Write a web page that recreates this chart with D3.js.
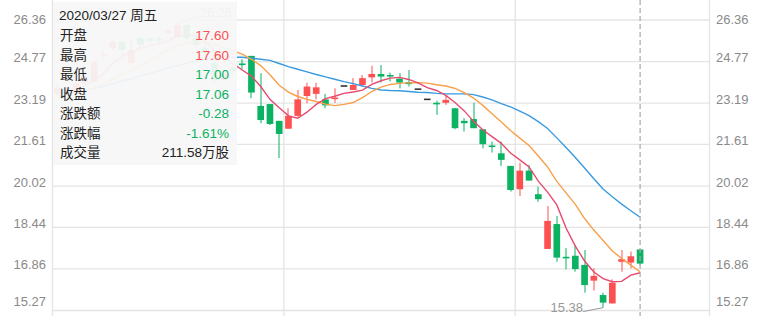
<!DOCTYPE html>
<html>
<head>
<meta charset="utf-8">
<script src="https://cdn.jsdelivr.net/npm/d3@7"></script>
<style>
    html, body { margin: 0; padding: 0; background: #fff; }
    svg { display: block; font-family: "Liberation Sans", Arial, "Noto Sans CJK SC", sans-serif; }
</style>
</head>
<body>
<svg id="chart" width="764" height="316"></svg>
<script>
// K 线数据
const opens = [
    23.57, 23.75, 23.55, 23.95, 24.00, 25.00, 25.29, 25.52, 24.72, 25.67,
    25.61, 25.62, 25.86, 25.71, 26.17, 25.70, 25.30, 24.71, 24.06, 24.55,
    24.68, 24.99, 23.08, 23.15, 22.51, 22.21, 22.70, 23.46, 23.54, 23.33,
    23.36, 23.84, 23.69, 23.88, 24.17, 24.30, 24.24, 24.12, 23.99, 23.72,
    23.33, 23.18, 23.20, 22.99, 22.51, 22.58, 22.19, 21.55, 21.27, 20.79,
    19.90, 20.61, 19.71, 17.62, 18.57, 17.30, 17.36, 17.01, 16.41, 15.86,
    15.54, 17.13, 17.10, 17.60
];
const highs = [
    23.90, 23.85, 24.05, 24.35, 24.85, 25.20, 25.65, 25.60, 25.62, 25.75,
    25.72, 25.75, 26.05, 26.25, 26.20, 25.85, 25.45, 25.20, 24.45, 24.70,
    24.87, 24.99, 24.33, 23.15, 22.51, 22.99, 23.69, 23.97, 23.96, 23.54,
    23.75, 23.84, 24.14, 24.26, 24.61, 24.64, 24.35, 24.33, 24.45, 23.72,
    23.33, 23.28, 23.46, 22.99, 22.61, 23.20, 22.19, 21.72, 21.72, 20.79,
    20.91, 20.83, 20.00, 19.26, 18.88, 17.65, 17.77, 17.58, 16.88, 15.95,
    16.46, 17.58, 17.52, 17.60
];
const lows = [
    23.45, 23.45, 23.50, 23.85, 23.95, 24.85, 25.20, 24.83, 24.65, 25.30,
    25.45, 25.40, 25.80, 25.65, 25.55, 25.30, 24.95, 23.95, 23.95, 24.30,
    24.49, 23.37, 22.42, 22.35, 21.09, 22.21, 22.65, 23.18, 23.33, 22.99,
    23.20, 23.84, 23.69, 23.84, 23.97, 23.97, 24.01, 23.75, 23.82, 23.72,
    23.33, 22.74, 23.12, 22.19, 22.10, 22.23, 21.46, 21.30, 20.79, 19.81,
    19.64, 20.23, 19.42, 17.62, 17.13, 16.84, 16.75, 15.95, 16.03, 15.38,
    15.54, 16.75, 16.88, 17.00
];
const closes = [
    23.77, 23.55, 23.95, 24.20, 24.75, 25.03, 25.52, 25.22, 25.22, 25.41,
    25.59, 25.58, 25.98, 26.17, 25.67, 25.40, 25.10, 24.06, 24.30, 24.40,
    24.66, 23.59, 22.54, 22.39, 22.01, 22.70, 23.33, 23.82, 23.79, 23.10,
    23.38, 23.84, 23.88, 24.14, 24.30, 24.20, 24.22, 23.97, 23.91, 23.72,
    23.33, 23.16, 23.31, 22.23, 22.42, 22.23, 21.62, 21.53, 21.02, 19.87,
    20.61, 20.23, 19.52, 18.69, 17.29, 17.28, 16.85, 16.24, 16.59, 15.57,
    16.33, 17.23, 17.34, 17.06
];

// 均线
const ma5 = [
    23.60, 23.65, 23.75, 23.85, 24.05, 24.30, 24.70, 24.95, 25.15, 25.28,
    25.39, 25.46, 25.56, 25.75, 25.80, 25.76, 25.55, 25.20, 24.95, 24.70,
    24.45, 24.22, 23.82, 23.33, 23.01, 22.70, 22.61, 22.84, 23.14, 23.36,
    23.45, 23.56, 23.61, 23.68, 23.90, 24.04, 24.14, 24.17, 24.09, 23.96,
    23.78, 23.67, 23.48, 23.21, 22.89, 22.49, 22.17, 21.91, 21.65, 21.28,
    21.02, 20.75, 20.21, 19.79, 19.30, 18.42, 17.73, 17.16, 16.74, 16.49,
    16.37, 16.38, 16.62, 16.71
];
const ma10 = [
    23.45, 23.48, 23.55, 23.65, 23.78, 23.92, 24.10, 24.28, 24.45, 24.62,
    24.82, 25.02, 25.22, 25.38, 25.48, 25.52, 25.50, 25.42, 25.30, 25.18,
    25.06, 24.86, 24.62, 24.27, 23.87, 23.61, 23.44, 23.33, 23.25, 23.15,
    23.09, 23.14, 23.21, 23.40, 23.63, 23.80, 23.90, 23.94, 23.96, 23.97,
    23.95, 23.89, 23.84, 23.75, 23.59, 23.38, 23.10, 22.78, 22.47, 22.14,
    21.85, 21.57, 21.17, 20.75, 20.20, 19.76, 19.32, 18.78, 18.34, 17.94,
    17.54, 17.26, 17.00, 16.75
];
const ma20 = [
    23.55, 23.58, 23.62, 23.68, 23.75, 23.83, 23.92, 24.02, 24.12, 24.22,
    24.32, 24.42, 24.52, 24.62, 24.71, 24.79, 24.85, 24.89, 24.92, 24.94,
    24.94, 24.90, 24.86, 24.82, 24.70, 24.58, 24.48, 24.38, 24.28, 24.19,
    24.10, 24.01, 23.93, 23.84, 23.75, 23.69, 23.67, 23.66, 23.63, 23.60,
    23.59, 23.56, 23.54, 23.54, 23.54, 23.51, 23.42, 23.31, 23.17, 23.04,
    22.88, 22.71, 22.48, 22.22, 21.86, 21.49, 21.11, 20.71, 20.30, 19.91,
    19.61, 19.33, 19.08, 18.83
];

const yTicks = [26.36, 24.77, 23.19, 21.61, 20.02, 18.44, 16.86, 15.27];
const slotCount = 71;
const xGridSlots = [0, 25, 50];

const tipDate = "2020/03/27 周五";
const tipLabels = ["开盘", "最高", "最低", "收盘", "涨跌额", "涨跌幅", "成交量"];
const tipValues = ["17.60", "17.60", "17.00", "17.06", "-0.28", "-1.61%", "211.58万股"];
const tipSigns = [1, 1, -1, -1, -1, -1, 0];

const RED = "#fd5050";
const GREEN = "#0bb262";
const FLAT = "#333";

const svg = d3.select("#chart");
const width = 764, height = 316;

const x = d3.scaleBand().domain(d3.range(slotCount)).range([52.5, 709.5]);
const y = d3.scaleLinear().domain([15.27, 26.36]).range([310.5, 20]);
const cx = i => x(i) + x.bandwidth() / 2;
const bodyW = x.bandwidth() * 0.72;

// 网格
const grid = svg.append("g").attr("stroke", "#e4e4e4").attr("stroke-width", 1.3);
grid.selectAll("line.h")
    .data(yTicks)
    .enter().append("line")
    .attr("x1", x.range()[0]).attr("x2", x.range()[1])
    .attr("y1", d => y(d)).attr("y2", d => y(d));
grid.selectAll("line.v")
    .data(xGridSlots.map(k => x(k)).concat([x.range()[1]]))
    .enter().append("line")
    .attr("x1", d => d).attr("x2", d => d)
    .attr("y1", 0).attr("y2", height);

// 坐标轴文字
function styleAxis(g) {
    g.select(".domain").remove();
    g.selectAll("line").remove();
    g.selectAll("text")
        .attr("fill", "#8a8a8a")
        .style("font-size", "13px")
        .attr("dy", (d, i) => i === 0 ? "0.25em" : (i === yTicks.length - 1 ? "-0.4em" : "0"));
}
svg.append("g").attr("transform", "translate(46,0)")
    .call(d3.axisLeft(y).tickValues(yTicks).tickFormat(d3.format(".2f")).tickSize(0).tickPadding(0))
    .call(styleAxis);
svg.append("g").attr("transform", "translate(716,0)")
    .call(d3.axisRight(y).tickValues(yTicks).tickFormat(d3.format(".2f")).tickSize(0).tickPadding(0))
    .call(styleAxis);

// K 线
const candles = opens.map((o, i) => ({ i, o, h: highs[i], l: lows[i], c: closes[i] }));
const colorOf = d => d.c > d.o ? RED : (d.c < d.o ? GREEN : FLAT);

const k = svg.append("g");
k.selectAll("line.wick")
    .data(candles.filter(d => d.h > d.l))
    .enter().append("line")
    .attr("x1", d => Math.round(cx(d.i))).attr("x2", d => Math.round(cx(d.i)))
    .attr("y1", d => y(d.h)).attr("y2", d => y(d.l))
    .attr("stroke", colorOf)
    .attr("stroke-width", 1);
k.selectAll("rect")
    .data(candles)
    .enter().append("rect")
    .attr("x", d => cx(d.i) - bodyW / 2)
    .attr("width", bodyW)
    .attr("y", d => {
        const top = y(Math.max(d.o, d.c)), bot = y(Math.min(d.o, d.c));
        return bot - top < 1.6 ? (top + bot) / 2 - 0.8 : top;
    })
    .attr("height", d => Math.max(1.6, y(Math.min(d.o, d.c)) - y(Math.max(d.o, d.c))))
    .attr("fill", colorOf);

// 均线
const line = d3.line().x((d, i) => cx(i)).y(d => y(d));
[[ma20, "#3a9ae0"], [ma10, "#f8a04a"], [ma5, "#e84a6e"]].forEach(([s, col]) => {
    svg.append("path")
        .datum(s)
        .attr("d", line)
        .attr("fill", "none")
        .attr("stroke", col)
        .attr("stroke-width", 1.4);
});

// 最高 / 最低 标注
const maxI = d3.maxIndex(highs), minI = d3.minIndex(lows);
const mid = (x.range()[0] + x.range()[1]) / 2;
function markExtreme(i, v, up) {
    const px = cx(i), py = y(v);
    const right = px < mid;
    const ty = up ? py - 10 : py;
    const tx = right ? px + 22 : px - 20;
    svg.append("line")
        .attr("x1", px).attr("y1", py)
        .attr("x2", tx).attr("y2", up ? ty + 3 : ty + 4)
        .attr("stroke", "#999").attr("stroke-width", 1);
    svg.append("text")
        .attr("x", tx).attr("y", ty)
        .attr("dy", "0.35em")
        .attr("text-anchor", right ? "start" : "end")
        .attr("fill", "#999")
        .style("font-size", "13px")
        .text(d3.format(".2f")(v));
}
markExtreme(maxI, highs[maxI], true);
markExtreme(minI, lows[minI], false);

// 十字线
const last = opens.length - 1;
svg.append("line")
    .attr("x1", cx(last)).attr("x2", cx(last))
    .attr("y1", 0).attr("y2", height)
    .attr("stroke", "#a8a8a8")
    .attr("stroke-width", 1.2)
    .attr("stroke-dasharray", "5,3");

// 提示框
const tip = svg.append("g");
tip.append("rect")
    .attr("x", 53).attr("y", 2)
    .attr("width", 184).attr("height", 163)
    .attr("fill", "#f6f6f6")
    .attr("fill-opacity", 0.94);
tip.append("text")
    .attr("x", 59).attr("y", 15)
    .attr("dy", "0.35em")
    .attr("fill", "#222")
    .style("font-size", "13.5px")
    .text(tipDate);
tipLabels.forEach((lab, i) => {
    const ty = 35.5 + i * 19.5;
    tip.append("text")
        .attr("x", 60).attr("y", ty).attr("dy", "0.35em")
        .attr("fill", "#222")
        .style("font-size", "13.5px")
        .text(lab);
    tip.append("text")
        .attr("x", 229).attr("y", ty).attr("dy", "0.35em")
        .attr("text-anchor", "end")
        .attr("fill", tipSigns[i] > 0 ? RED : (tipSigns[i] < 0 ? GREEN : "#222"))
        .style("font-size", "13.5px")
        .text(tipValues[i]);
});
</script>
</body>
</html>
